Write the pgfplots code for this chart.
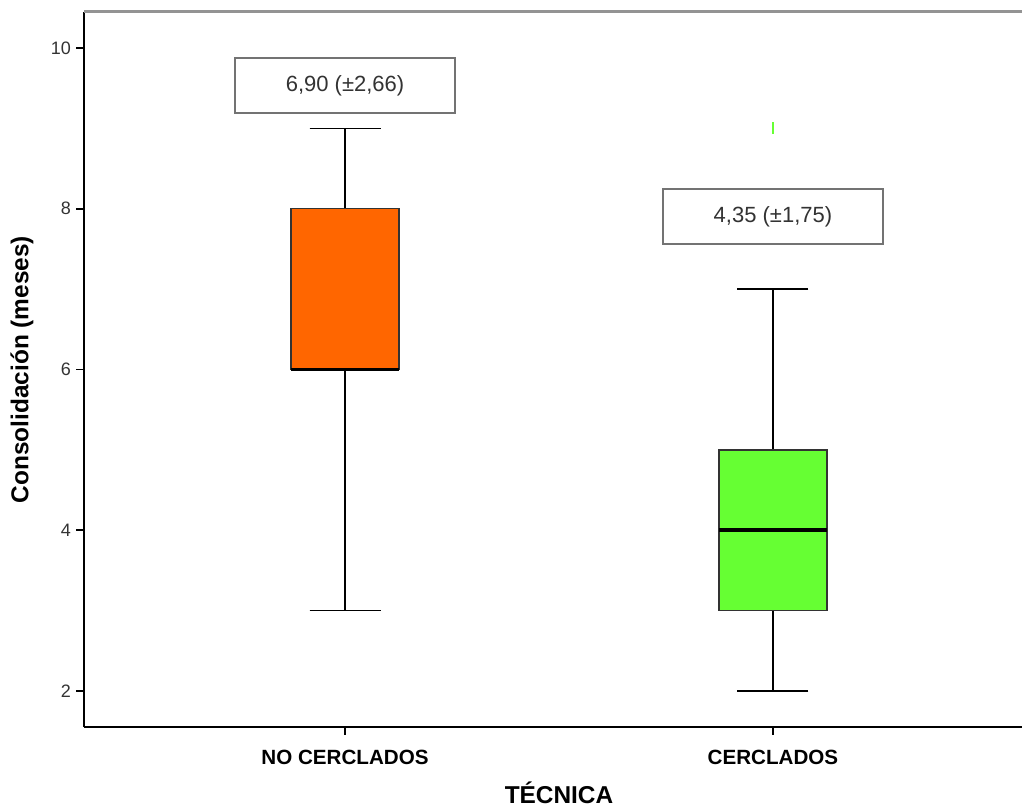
\documentclass[border=0pt]{standalone}
\usepackage{pgfplots}
\pgfplotsset{compat=1.18}
\usepgfplotslibrary{statistics}
\usepackage{fontspec}
\setmainfont{Liberation Sans}
\definecolor{orangeC}{HTML}{FF6600}
\definecolor{greenC}{HTML}{66FF33}
\definecolor{txtC}{HTML}{333333}
\begin{document}
\begin{tikzpicture}
\begin{axis}[
  name=ax,
  scale only axis,
  width=475pt, height=357.5pt,
  xmin=0.39, xmax=2.61,
  ymin=1.552, ymax=10.448,
  axis x line*=bottom, axis y line*=left,
  axis line style={black, line width=0.9pt},
  tick align=outside,
  ytick={2,4,6,8,10},
  xtick={1,2},
  xticklabels={NO CERCLADOS, CERCLADOS},
  major tick length=3.8pt,
  tick style={black, line width=0.8pt},
  y tick label style={font=\fontsize{9}{10}\selectfont, text=txtC, xshift=0.8pt},
  /pgf/number format/assume math mode=true,
  x tick label style={font=\bfseries\fontsize{10.3}{12}\selectfont, yshift=-4pt},
  xlabel={TÉCNICA},
  ylabel={Consolidación (meses)},
  xlabel style={font=\bfseries\fontsize{12.2}{14}\selectfont, at={(axis description cs:0.5,0)}, anchor=center, yshift=-32.8pt},
  ylabel style={font=\bfseries\fontsize{12.2}{14}\selectfont, at={(axis description cs:0,0.5)}, anchor=center, rotate=0, yshift=31pt},
  clip=false,
  boxplot/draw direction=y,
  boxplot/every median/.style={line width=1.8pt, black},
  boxplot/every box/.style={draw=black!80, line width=0.7pt},
  boxplot/every whisker/.style={black, line width=0.8pt},
]
\addplot[boxplot prepared={draw position=1, lower whisker=3, lower quartile=6, median=6, upper quartile=8, upper whisker=9, box extend=0.252, whisker extend=0.166}, fill=orangeC, draw=black, solid, mark=none] coordinates {};
\addplot[boxplot prepared={draw position=2, lower whisker=2, lower quartile=3, median=4, upper quartile=5, upper whisker=7, box extend=0.252, whisker extend=0.166}, fill=greenC, draw=black, solid, mark=|, mark size=3pt, mark options={draw=greenC, line width=0.8pt}] table[row sep=\\, y index=0] {9\\};
\draw[gray!85, line width=1.5pt] (rel axis cs:0,1) -- (rel axis cs:1,1);
\node[draw=gray!90!black, line width=1pt, minimum width=110pt, minimum height=27.5pt, inner sep=0pt, fill=white, text=txtC, font=\fontsize{11}{13}\selectfont] at (axis cs:1,9.533) {6,90 (±2,66)};
\node[draw=gray!90!black, line width=1pt, minimum width=110pt, minimum height=27.5pt, inner sep=0pt, fill=white, text=txtC, font=\fontsize{11}{13}\selectfont] at (axis cs:2,7.903) {4,35 (±1,75)};
\end{axis}
\pgfresetboundingbox
\path ([xshift=-42pt,yshift=-40pt]ax.south west) rectangle ([xshift=-6pt,yshift=6pt]ax.north east);
\end{tikzpicture}
\end{document}
